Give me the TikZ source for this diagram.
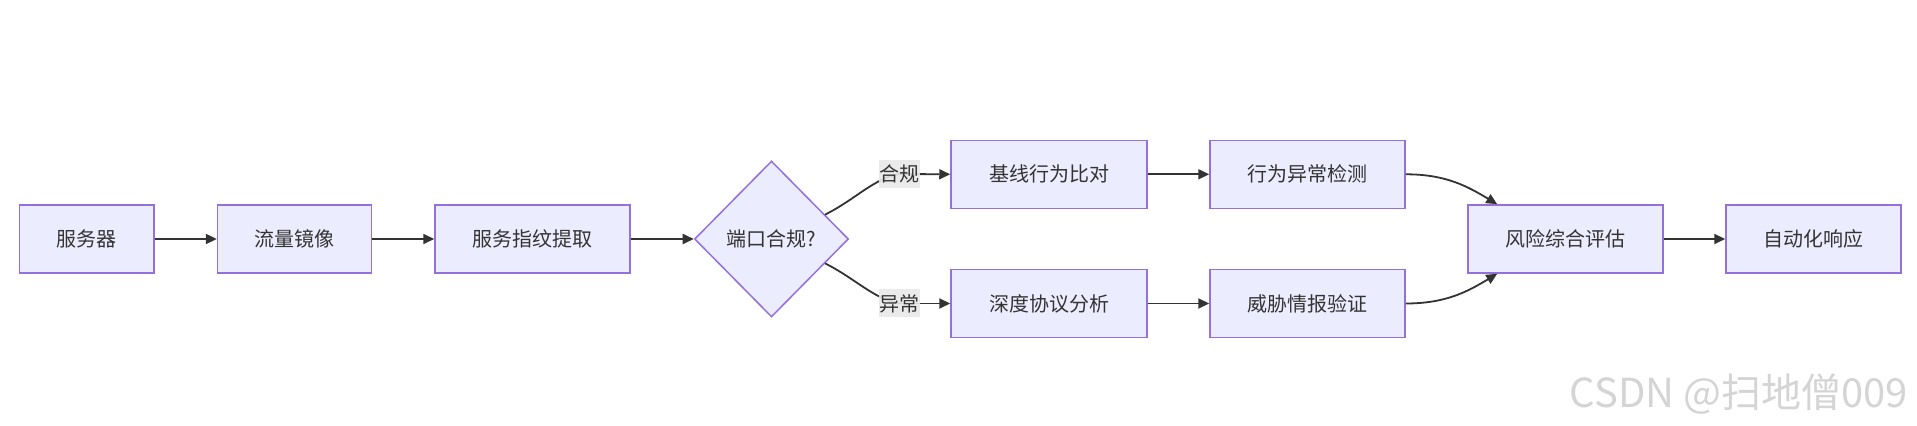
\documentclass[tikz,border=0pt]{standalone}
\usepackage{fontspec}
\setmainfont{Noto Sans CJK SC}
\usetikzlibrary{shapes.geometric,arrows.meta,calc}
\definecolor{boxfill}{HTML}{ECECFF}
\definecolor{boxline}{HTML}{9370DB}
\definecolor{edgecol}{HTML}{333333}
\definecolor{lblbg}{HTML}{E8E8E8}
\definecolor{wmcol}{HTML}{D4D4D4}
\begin{document}
\begin{tikzpicture}[x=0.5pt,y=-0.5pt,
  proc/.style={draw=boxline, fill=boxfill, line width=0.75pt, minimum height=34pt,
    inner sep=0pt, text=edgecol, font=\fontsize{10pt}{12pt}\selectfont},
  decide/.style={draw=boxline, fill=boxfill, line width=0.75pt, shape=diamond, aspect=1,
    minimum width=77pt, minimum height=78pt, inner sep=0pt, text=edgecol,
    font=\fontsize{10pt}{12pt}\selectfont},
  lbl/.style={fill=lblbg, fill opacity=0.9, text opacity=1, inner sep=0pt, minimum width=20.5pt,
    minimum height=14pt, text=edgecol, font=\fontsize{10pt}{12pt}\selectfont},
  link/.style={draw=edgecol, line width=0.9pt},
  arr/.style={link, -{Triangle[length=5.5pt,width=5pt]}}
]
\useasboundingbox (0,0) rectangle (1917,426);

\node[proc, minimum width=67.2pt] (A) at (86.8,239) {服务器};
\node[proc, minimum width=77pt] (B) at (294.6,239) {流量镜像};
\node[proc, minimum width=97.5pt] (C) at (532.5,239) {服务指纹提取};
\node[decide] (D) at (771.5,239) {端口合规?};
\node[proc, minimum width=98pt] (E) at (1049,174.3) {基线行为比对};
\node[proc, minimum width=98pt] (F) at (1049,303.5) {深度协议分析};
\node[proc, minimum width=97.5pt] (G) at (1307.5,174.3) {行为异常检测};
\node[proc, minimum width=97.5pt] (H) at (1307.5,303.5) {威胁情报验证};
\node[proc, minimum width=97.5pt] (I) at (1565.5,239) {风险综合评估};
\node[proc, minimum width=87.5pt] (J) at (1813.5,239) {自动化响应};

\draw[arr] (A) -- (B);
\draw[arr] (B) -- (C);
\draw[arr] (C) -- (D);

\coordinate (s1) at ($(D.north)!0.69!(D.east)$);
\coordinate (s2) at ($(D.south)!0.69!(D.east)$);
\coordinate (l1) at (899.5,174);
\coordinate (l2) at (899.5,303.5);

\draw[link] (s1) .. controls ($(s1)+(30,-15)$) and ($(l1)+(-25,4)$) .. (l1);
\draw[arr] (l1) -- (E.west);
\draw[link] (s2) .. controls ($(s2)+(30,15)$) and ($(l2)+(-25,-4)$) .. (l2);
\draw[arr] (l2) -- (F.west);

\draw[arr] (E) -- (G);
\draw[arr] (F) -- (H);

\coordinate (t1) at ($(I.north west)+(30,0)$);
\coordinate (t2) at ($(I.south west)+(30,0)$);
\draw[arr] (G.east) .. controls ($(G.east)+(40,0)$) and ($(t1)+(-30,-18)$) .. (t1);
\draw[arr] (H.east) .. controls ($(H.east)+(40,0)$) and ($(t2)+(-30,18)$) .. (t2);

\draw[arr] (I) -- (J);

\node[lbl] (L1) at (l1) {合规};
\node[lbl] (L2) at (l2) {异常};

\node[text=wmcol, font=\fontsize{20pt}{24pt}\selectfont] (wm) at (1739,394) {CSDN @扫地僧009};
\end{tikzpicture}
\end{document}
